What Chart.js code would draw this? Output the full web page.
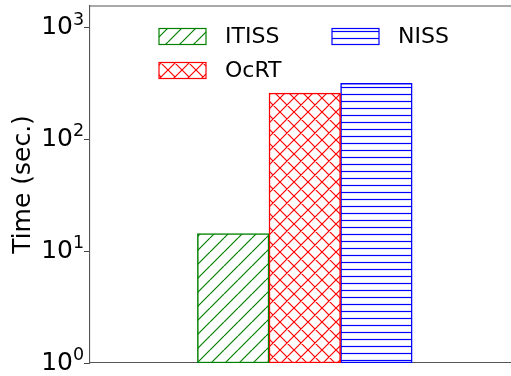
<!DOCTYPE html>
<html>
<head>
<meta charset="utf-8">
<script src="https://cdn.jsdelivr.net/npm/chart.js@4/dist/chart.umd.min.js"></script>
<style>
  html, body { margin: 0; padding: 0; background: #fff; }
  canvas { display: block; }
</style>
</head>
<body>
<canvas id="chart1" width="511" height="376"></canvas>
<script>
// data
var methods = ["ITISS", "OcRT", "NISS"];
var times = [14.4, 261, 319];
var yTicks = [1, 10, 100, 1000];
var yTickBase = "10";
var yTickExp = ["0", "1", "2", "3"];
var yMax = 1574;

var edgeColors = ["#008000", "#ff0000", "#0000ff"];
var hatches = ["/", "x", "-"];

// small canvas tiles used as hatch fills
function makeHatch(kind, color) {
  var s = kind == "-" ? 7 : 14;
  var c = document.createElement("canvas");
  c.width = s;
  c.height = s;
  var g = c.getContext("2d");
  g.fillStyle = "#fff";
  g.fillRect(0, 0, s, s);
  g.strokeStyle = color;
  g.lineWidth = 1.2;
  g.beginPath();
  if (kind == "-") {
    g.moveTo(0, s / 2);
    g.lineTo(s, s / 2);
  } else {
    for (var k = -s; k <= s; k += s) {
      g.moveTo(k, s);
      g.lineTo(k + s, 0);
      if (kind == "x") {
        g.moveTo(k, 0);
        g.lineTo(k + s, s);
      }
    }
  }
  g.stroke();
  return g.createPattern(c, "repeat");
}

var patterns = hatches.map(function (h, i) {
  return makeHatch(h, edgeColors[i]);
});

var datasets = methods.map(function (name, i) {
  return {
    label: name,
    data: [{ x: i, y: times[i] }],
    backgroundColor: patterns[i],
    borderColor: edgeColors[i],
    borderWidth: 1.5,
    borderSkipped: false,
    grouped: false,
    categoryPercentage: 1,
    barPercentage: 1,
  };
});

// legend in two columns, drawn inside the plot like matplotlib does
var legendSlots = [
  [0, 0],
  [0, 1],
  [1, 0],
];
var hatchLegend = {
  id: "hatchLegend",
  afterDraw: function (chart) {
    var ctx = chart.ctx;
    var area = chart.chartArea;
    ctx.save();
    ctx.font = "22px 'DejaVu Sans'";
    ctx.textBaseline = "middle";
    ctx.textAlign = "left";
    methods.forEach(function (name, i) {
      var x = area.left + 69 + legendSlots[i][0] * 173;
      var y = area.top + 22.5 + legendSlots[i][1] * 34;
      ctx.fillStyle = patterns[i];
      ctx.fillRect(x, y, 47, 16);
      ctx.strokeStyle = edgeColors[i];
      ctx.lineWidth = 1.2;
      ctx.strokeRect(x, y, 47, 16);
      ctx.fillStyle = "#000";
      ctx.fillText(name, x + 66, y + 9);
    });
    ctx.restore();
  },
};

// top spine + exponents of the y tick labels
var extras = {
  id: "extras",
  afterDraw: function (chart) {
    var ctx = chart.ctx;
    var a = chart.chartArea;
    var y = chart.scales.y;
    ctx.save();
    ctx.strokeStyle = "#555";
    ctx.lineWidth = 1.1;
    ctx.beginPath();
    ctx.moveTo(a.left, a.top);
    ctx.lineTo(chart.width, a.top);
    ctx.stroke();

    ctx.fillStyle = "#000";
    ctx.font = "17.5px 'DejaVu Sans'";
    ctx.textAlign = "left";
    ctx.textBaseline = "middle";
    yTicks.forEach(function (v, i) {
      var py = y.getPixelForValue(v);
      ctx.fillText(yTickExp[i], a.left - 17, py - 8);
    });
    ctx.restore();
  },
};

const ctx = document.getElementById("chart1");

var myChart = new Chart(ctx, {
  type: "bar",
  data: { datasets: datasets },
  options: {
    responsive: false,
    devicePixelRatio: 1,
    animation: false,
    events: [],
    layout: { padding: { top: 6, bottom: 13, left: 0, right: 0 } },
    plugins: {
      legend: { display: false },
      tooltip: { enabled: false },
    },
    scales: {
      x: {
        type: "linear",
        offset: false,
        min: -2,
        max: 3.88,
        z: 1,
        afterBuildTicks: function (scale) {
          scale.ticks = methods.map(function (m, i) {
            return { value: i };
          });
        },
        ticks: { display: false },
        grid: { display: false, offset: false },
        border: { display: true, color: "#555", width: 1.1 },
        afterFit: function (scale) {
          scale.height = 0;
          scale.paddingLeft = 0;
          scale.paddingRight = 0;
        },
      },
      y: {
        type: "logarithmic",
        min: 1,
        max: yMax,
        z: 1,
        afterBuildTicks: function (scale) {
          scale.ticks = yTicks.map(function (v) {
            return { value: v };
          });
        },
        afterFit: function (scale) {
          scale.width = 90;
          scale.paddingTop = 0;
          scale.paddingBottom = 0;
        },
        ticks: {
          padding: 11,
          color: "#000",
          font: { family: "DejaVu Sans", size: 25 },
          callback: function () {
            return yTickBase;
          },
        },
        grid: {
          display: true,
          drawOnChartArea: false,
          drawTicks: true,
          tickLength: 6,
          color: "#444",
          lineWidth: 1,
        },
        border: { display: true, color: "#555", width: 1.1 },
        title: {
          display: true,
          text: "Time (sec.)",
          color: "#000",
          font: { family: "DejaVu Sans", size: 25 },
          padding: { top: 8, bottom: 4 },
        },
      },
    },
  },
  plugins: [hatchLegend, extras],
});
</script>
</body>
</html>
